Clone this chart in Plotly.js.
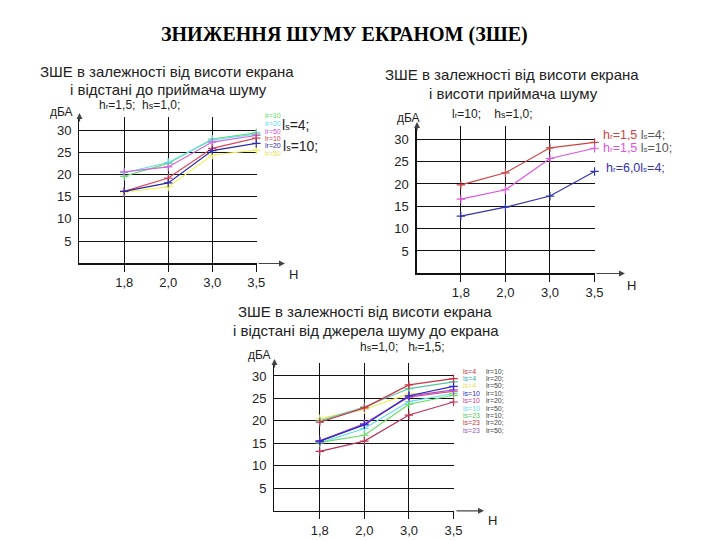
<!DOCTYPE html>
<html>
<head>
<meta charset="utf-8">
<script src="https://cdn.plot.ly/plotly-3.0.1.min.js"></script>
<style>html,body{margin:0;padding:0;background:#fff;}#chart{width:720px;height:540px;}</style>
</head>
<body>
<div id="chart"></div>
<script>
// ---------- data ----------
const H = ['1,8', '2,0', '3,0', '3,5'];
const yTicks = [5, 10, 15, 20, 25, 30];

// Chart 1: hr=1,5; hs=1,0
const c1_ls4_lr10 = [19.6, 22.5, 28.0, 29.4];
const c1_ls4_lr20 = [20.4, 22.7, 27.8, 29.1];
const c1_ls4_lr50 = [20.6, 21.7, 27.3, 28.8];
const c1_ls10_lr10 = [16.2, 19.2, 25.9, 28.2];
const c1_ls10_lr20 = [16.2, 18.1, 25.4, 27.0];
const c1_ls10_lr50 = [16.0, 17.2, 24.4, 25.5];

// Chart 2: lr=10; hs=1,0
const c2_hr15_ls4 = [19.8, 22.5, 28.1, 29.3];
const c2_hr15_ls10 = [16.6, 18.7, 25.7, 28.0];
const c2_hr60_ls4 = [12.8, 14.8, 17.3, 22.8];

// Chart 3: hs=1,0; hr=1,5
const c3_ls4_lr10 = [19.7, 22.9, 28.0, 29.4];
const c3_ls4_lr20 = [20.0, 23.1, 27.2, 28.7];
const c3_ls4_lr50 = [20.5, 22.6, 26.0, 26.4];
const c3_ls10_lr10 = [15.5, 19.1, 25.6, 27.7];
const c3_ls10_lr20 = [15.4, 19.4, 25.3, 26.6];
const c3_ls10_lr50 = [15.1, 18.3, 24.3, 26.1];
const c3_ls23_lr10 = [15.2, 16.8, 23.7, 25.7];
const c3_ls23_lr20 = [13.2, 15.5, 21.3, 24.2];
const c3_ls23_lr50 = [15.6, 19.3, 25.5, 26.9];

// ---------- helpers ----------
const W = 720, Ht = 540;
const fx = p => p / W;
const fy = p => 1 - p / Ht;
const SANS = 'Liberation Sans, Arial, sans-serif';
const TXT = '#222';
const sb = (s, px) => '<span style="font-size:' + px + 'px">' + s + '</span>';

function tr(y, color, xa, ya) {
  return {
    x: H, y: y, xaxis: xa, yaxis: ya, type: 'scatter', mode: 'lines+markers',
    line: {color: color, width: 1.2},
    marker: {symbol: 'cross-thin', size: 6, color: color, line: {color: color, width: 1.2}},
    showlegend: false, hoverinfo: 'skip', cliponaxis: false
  };
}

const data = [
  tr(c1_ls4_lr10, '#66dd66', 'x', 'y'),
  tr(c1_ls4_lr20, '#66ddee', 'x', 'y'),
  tr(c1_ls4_lr50, '#cc66dd', 'x', 'y'),
  tr(c1_ls10_lr50, '#f2f060', 'x', 'y'),
  tr(c1_ls10_lr10, '#dd4455', 'x', 'y'),
  tr(c1_ls10_lr20, '#2a2aaa', 'x', 'y'),

  tr(c2_hr15_ls4, '#cc4444', 'x2', 'y2'),
  tr(c2_hr15_ls10, '#dd55dd', 'x2', 'y2'),
  tr(c2_hr60_ls4, '#3333aa', 'x2', 'y2'),

  tr(c3_ls4_lr50, '#f0ee60', 'x3', 'y3'),
  tr(c3_ls4_lr20, '#55c8a0', 'x3', 'y3'),
  tr(c3_ls10_lr50, '#66ddee', 'x3', 'y3'),
  tr(c3_ls23_lr10, '#66dd66', 'x3', 'y3'),
  tr(c3_ls10_lr20, '#dd44aa', 'x3', 'y3'),
  tr(c3_ls23_lr50, '#aa55cc', 'x3', 'y3'),
  tr(c3_ls10_lr10, '#2a2acc', 'x3', 'y3'),
  tr(c3_ls23_lr20, '#bb3355', 'x3', 'y3'),
  tr(c3_ls4_lr10, '#cc3344', 'x3', 'y3')
];

function xax(x0, x1, left, anchor) {
  return {
    domain: [fx(x0), fx(x1)], anchor: anchor, type: 'category',
    range: [left, 3.01], fixedrange: true,
    showgrid: true, gridcolor: '#111', gridwidth: 1,
    showline: true, linecolor: '#111', linewidth: 1.3,
    ticks: 'outside', ticklen: 7, tickcolor: '#111', tickwidth: 1,
    tickfont: {family: SANS, size: 13, color: TXT}, zeroline: false
  };
}
function yax(yb, yt, anchor) {
  return {
    domain: [fy(yb), fy(yt)], anchor: anchor, range: [0, 33], fixedrange: true,
    tickvals: yTicks, ticktext: yTicks.map(String),
    showgrid: true, gridcolor: '#111', gridwidth: 1,
    showline: true, linecolor: '#111', linewidth: 1.3,
    ticks: '', ticklabelstandoff: 4,
    tickfont: {family: SANS, size: 13, color: TXT}, zeroline: false
  };
}

function txt(x, y, text, size, color, xanchor, extra) {
  return Object.assign({
    xref: 'paper', yref: 'paper', x: fx(x), y: fy(y), text: text, showarrow: false,
    xanchor: xanchor || 'center', yanchor: 'middle',
    font: {family: SANS, size: size, color: color || TXT}
  }, extra || {});
}
function arrow(x, y, axp, ayp) {
  return {
    xref: 'paper', yref: 'paper', x: fx(x), y: fy(y), ax: axp, ay: ayp, text: '',
    showarrow: true, arrowhead: 2, arrowsize: 1, arrowwidth: 1.2, arrowcolor: '#444'
  };
}

const ann = [
  // main title
  txt(344, 35, '<b>ЗНИЖЕННЯ ШУМУ ЕКРАНОМ (ЗШЕ)</b>', 20, '#000', 'center',
      {font: {family: 'Liberation Serif, Times New Roman, serif', size: 20, color: '#000'}}),

  // chart 1
  txt(167, 72, 'ЗШЕ в залежності від висоти екрана', 15),
  txt(168, 90, 'і відстані до приймача шуму', 15),
  txt(97, 105, 'h' + sb('r', 8) + '=1,5;  h' + sb('s', 9) + '=1,0;', 12, TXT, 'left'),
  txt(61, 112, 'дБА', 12),
  txt(293, 274, 'H', 13),
  arrow(285, 263.5, -28, 0),
  arrow(79.5, 113, 0, 10),
  txt(263, 116, 'lr=10', 7, '#55dd55', 'left'),
  txt(263, 123.5, 'lr=20', 7, '#55ddee', 'left'),
  txt(263, 131, 'lr=50', 7, '#cc55dd', 'left'),
  txt(263, 138, 'lr=10', 7, '#dd4455', 'left'),
  txt(263, 145.5, 'lr=20', 7, '#2a2aaa', 'left'),
  txt(263, 153, 'lr=50', 7, '#e6e050', 'left'),
  txt(280, 125, 'l' + sb('s', 9) + '=4;', 14, TXT, 'left'),
  txt(281, 146, 'l' + sb('s', 9) + '=10;', 14, TXT, 'left'),

  // chart 2
  txt(512, 75, 'ЗШЕ в залежності від висоти екрана', 15),
  txt(513, 94, 'і висоти приймача шуму', 15),
  txt(450, 114, 'l' + sb('r', 8) + '=10;    h' + sb('s', 9) + '=1,0;', 12, TXT, 'left'),
  txt(408, 118, 'дБА', 12),
  txt(631, 285, 'H', 13),
  arrow(625, 273.5, -30, 0),
  arrow(417, 122, 0, 10),
  txt(601, 135, '<span style="color:#cc4444">h' + sb('r', 8) + '=1,5</span> l' + sb('s', 8) + '=4;', 12.5, '#555', 'left'),
  txt(601, 148, '<span style="color:#dd55dd">h' + sb('r', 8) + '=1,5</span> l' + sb('s', 8) + '=10;', 12.5, '#555', 'left'),
  txt(604, 168, '<span style="color:#3333aa">h' + sb('r', 8) + '=6,0l' + sb('s', 8) + '=4;</span>', 12.5, '#555', 'left'),

  // chart 3
  txt(365, 312, 'ЗШЕ в залежності від висоти екрана', 15),
  txt(366, 330, 'і відстані від джерела шуму до екрана', 15),
  txt(358, 347, 'h' + sb('s', 9) + '=1,0;   h' + sb('r', 8) + '=1,5;', 12, TXT, 'left'),
  txt(259, 355, 'дБА', 12),
  txt(492, 520, 'H', 13),
  arrow(484, 510.8, -29, 0),
  arrow(274.5, 359, 0, 10),
];

const c3leg = [
  ['ls=4', '#cc3344', 'lr=10;'],
  ['ls=4', '#33aaaa', 'lr=20;'],
  ['ls=4', '#e8e060', 'lr=50;'],
  ['ls=10', '#2a2acc', 'lr=10;'],
  ['ls=10', '#cc3399', 'lr=20;'],
  ['ls=10', '#66ddee', 'lr=50;'],
  ['ls=23', '#55cc55', 'lr=10;'],
  ['ls=23', '#cc3344', 'lr=20;'],
  ['ls=23', '#9955bb', 'lr=50;']
];
c3leg.forEach((r, i) => {
  const y = 371 + i * 7.4;
  ann.push(txt(461, y, r[0], 7, r[1], 'left'));
  ann.push(txt(484, y, r[2], 7, '#444', 'left'));
});

const layout = {
  width: W, height: Ht, margin: {l: 0, r: 0, t: 0, b: 0},
  paper_bgcolor: '#fff', plot_bgcolor: 'rgba(0,0,0,0)',
  showlegend: false,
  xaxis: xax(79.3, 256.7, -1.02, 'y'),
  yaxis: yax(263.3, 116.8, 'x'),
  xaxis2: xax(416.7, 595, -0.99, 'y2'),
  yaxis2: yax(273.3, 125.9, 'x2'),
  xaxis3: xax(274.3, 454, -1.02, 'y3'),
  yaxis3: yax(510.7, 362.5, 'x3'),
  annotations: ann
};

Plotly.newPlot('chart', data, layout, {staticPlot: true, displayModeBar: false});
</script>
</body>
</html>
